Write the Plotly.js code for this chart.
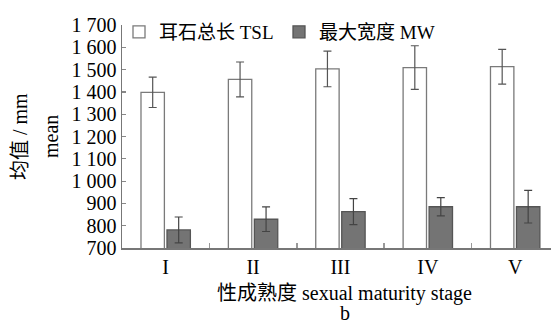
<!DOCTYPE html>
<html>
<head>
<meta charset="utf-8">
<script src="https://cdn.plot.ly/plotly-3.0.1.min.js"></script>
<style>html,body{margin:0;padding:0;background:#fff;}#chart{width:551px;height:324px;}</style>
</head>
<body>
<div id="chart"></div>
<script>
const stages = ["I", "II", "III", "IV", "V"];
const tslMean = [1398, 1456, 1503, 1509, 1513];
const tslErr = [68, 78, 80, 98, 78];
const mwMean = [781, 829, 863, 885, 885];
const mwErr = [58, 55, 58, 41, 73];
const yTickVals = [700, 800, 900, 1000, 1100, 1200, 1300, 1400, 1500, 1600, 1700];
const yTickText = ["700", "800", "900", "1 000", "1 100", "1 200", "1 300", "1 400", "1 500", "1 600", "1 700"];

const FONT = "Liberation Serif, Times New Roman, Noto Sans CJK SC, serif";
const W = 551, H = 324, L = 122, R = 0, T = 25, B = 76;
const pw = W - L - R, ph = H - T - B;
const px = x => (x - L) / pw;
const py = y => (H - B - y) / ph;

const traces = [
  {
    type: "bar", name: "耳石总长 TSL", x: stages, y: tslMean, legend: "legend",
    marker: {color: "#ffffff", line: {color: "#7a7a7a", width: 1.3}},
    error_y: {type: "data", array: tslErr, visible: true, color: "#555555", thickness: 1.2, width: 4}
  },
  {
    type: "bar", name: "最大宽度 MW", x: stages, y: mwMean, legend: "legend2",
    marker: {color: "#747474", line: {color: "#555555", width: 1.3}},
    error_y: {type: "data", array: mwErr, visible: true, color: "#444444", thickness: 1.2, width: 4}
  }
];

const legendBase = {
  orientation: "v", xanchor: "left", yanchor: "middle", y: py(32),
  font: {family: FONT, size: 19, color: "#000"},
  bgcolor: "rgba(0,0,0,0)", itemwidth: 30
};

const layout = {
  width: W, height: H,
  margin: {l: L, r: R, t: T, b: B, pad: 0},
  paper_bgcolor: "#ffffff", plot_bgcolor: "#ffffff",
  font: {family: FONT, size: 20, color: "#000"},
  barmode: "group", bargap: 0.405, bargroupgap: 0.1,
  showlegend: true,
  legend: Object.assign({}, legendBase, {x: px(119)}),
  legend2: Object.assign({}, legendBase, {x: px(279)}),
  xaxis: {
    type: "category", range: [-0.5, 4.41],
    showline: true, linecolor: "#777777", linewidth: 1.5,
    ticks: "inside", tickson: "boundaries", ticklen: 5, tickcolor: "#999999", tickwidth: 1.5,
    showgrid: false, zeroline: false,
    tickfont: {family: FONT, size: 20, color: "#000"}
  },
  yaxis: {
    range: [700, 1700], tickmode: "array", tickvals: yTickVals, ticktext: yTickText,
    showline: true, linecolor: "#777777", linewidth: 1.5,
    ticks: "inside", ticklen: 4, tickcolor: "#888888", tickwidth: 1.2,
    showgrid: false, zeroline: false,
    tickfont: {family: FONT, size: 20, color: "#000"}
  },
  annotations: [
    {xref: "paper", yref: "paper", x: px(20), y: py(137), text: "均值 / mm", textangle: -90,
     showarrow: false, xanchor: "center", yanchor: "middle", font: {family: FONT, size: 20, color: "#000"}},
    {xref: "paper", yref: "paper", x: px(51), y: py(137), text: "mean", textangle: -90,
     showarrow: false, xanchor: "center", yanchor: "middle", font: {family: FONT, size: 20, color: "#000"}},
    {xref: "paper", yref: "paper", x: px(344), y: py(293), text: "性成熟度 sexual maturity stage",
     showarrow: false, xanchor: "center", yanchor: "middle", font: {family: FONT, size: 20, color: "#000"}},
    {xref: "paper", yref: "paper", x: px(345), y: py(313), text: "b",
     showarrow: false, xanchor: "center", yanchor: "middle", font: {family: FONT, size: 20, color: "#000"}}
  ]
};

Plotly.newPlot("chart", traces, layout, {staticPlot: true, displayModeBar: false});
</script>
</body>
</html>
